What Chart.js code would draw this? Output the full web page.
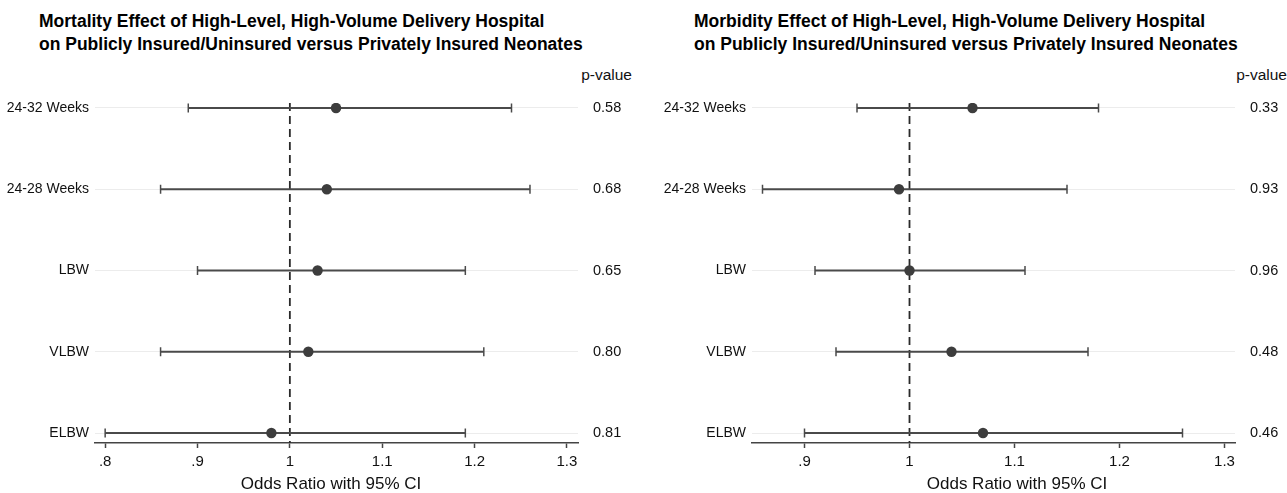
<!DOCTYPE html>
<html>
<head>
<meta charset="utf-8">
<script src="https://cdn.jsdelivr.net/npm/chart.js@4.4.1/dist/chart.umd.min.js"></script>
<style>
html,body{margin:0;padding:0;background:#fff;width:1287px;height:493px;overflow:hidden;}
canvas{position:absolute;top:0;}
#c1{left:0;}
#c2{left:645px;}
.title{position:absolute;font:bold 17.5px "Liberation Sans",Arial,sans-serif;line-height:23px;color:#000;white-space:nowrap;}
.ph{position:absolute;font:15.5px "Liberation Sans",Arial,sans-serif;line-height:18px;color:#111;white-space:nowrap;text-align:right;}
.xt{position:absolute;font:17px "Liberation Sans",Arial,sans-serif;line-height:20px;color:#111;white-space:nowrap;transform:translateX(-50%);}
</style>
</head>
<body>
<div class="title" style="left:39px;top:10px;">Mortality Effect of High-Level, High-Volume Delivery Hospital<br>on Publicly Insured/Uninsured versus Privately Insured Neonates</div>
<div class="title" style="left:694px;top:10px;">Morbidity Effect of High-Level, High-Volume Delivery Hospital<br>on Publicly Insured/Uninsured versus Privately Insured Neonates</div>
<div class="ph" style="right:655px;top:66px;">p-value</div>
<div class="ph" style="right:0px;top:66px;">p-value</div>
<canvas id="c1" width="645" height="493"></canvas>
<canvas id="c2" width="642" height="493"></canvas>
<div class="xt" style="left:331px;top:474px;">Odds Ratio with 95% CI</div>
<div class="xt" style="left:1017px;top:474px;">Odds Ratio with 95% CI</div>
<script>
// ---- data ----
const categories = ["24-32 Weeks", "24-28 Weeks", "LBW", "VLBW", "ELBW"];

const mortOR = [1.05, 1.04, 1.03, 1.02, 0.98];
const mortLo = [0.89, 0.86, 0.90, 0.86, 0.80];
const mortHi = [1.24, 1.26, 1.19, 1.21, 1.19];
const mortP  = ["0.58", "0.68", "0.65", "0.80", "0.81"];
const mortTicks = [0.8, 0.9, 1.0, 1.1, 1.2, 1.3];

const morbOR = [1.06, 0.99, 1.00, 1.04, 1.07];
const morbLo = [0.95, 0.86, 0.91, 0.93, 0.90];
const morbHi = [1.18, 1.15, 1.11, 1.17, 1.26];
const morbP  = ["0.33", "0.93", "0.96", "0.48", "0.46"];
const morbTicks = [0.9, 1.0, 1.1, 1.2, 1.3];

const refValue = 1;

// ---- helpers ----
const FONT = '"Liberation Sans", Arial, sans-serif';
const LINE = '#4a4a4a';
const DOT = '#3d3d3d';
const rowIdx = categories.map((c, i) => i);
const Y_MIN = -0.0615, Y_MAX = 4.123;

function fmtTick(v) {
  const s = Number(v.toFixed(1)).toString();
  return s.startsWith('0.') ? s.slice(1) : s;
}

function makeChart(id, or, lo, hi, pv, ticks, xmin, xmax, leftW, rightW, padRight) {
  const datasets = [];
  datasets.push({
    label: 'points',
    data: rowIdx.map(i => ({x: or[i], y: i})),
    pointRadius: 5.2, pointHoverRadius: 5.2,
    pointBackgroundColor: DOT, pointBorderColor: DOT, pointBorderWidth: 0,
    showLine: false, order: 0
  });
  rowIdx.forEach(i => {
    datasets.push({
      label: 'ci' + i,
      data: [{x: lo[i], y: i}, {x: hi[i], y: i}],
      showLine: true, borderColor: LINE, borderWidth: 2,
      pointStyle: 'line', pointRotation: 90, pointRadius: 4.5, pointHoverRadius: 4.5,
      pointBorderColor: LINE, pointBorderWidth: 1.5, order: 1
    });
  });
  datasets.push({
    label: 'ref',
    data: [{x: refValue, y: Y_MIN}, {x: refValue, y: Y_MAX}],
    showLine: true, borderColor: '#2a2a2a', borderWidth: 1.8, borderDash: [8, 5],
    pointRadius: 0, order: 2
  });

  return new Chart(document.getElementById(id), {
    type: 'scatter',
    data: {datasets},
    options: {
      responsive: false, animation: false,
      layout: {padding: {left: 0, right: padRight, top: 103, bottom: 0}},
      plugins: {legend: {display: false}, tooltip: {enabled: false}},
      scales: {
        x: {
          type: 'linear', min: xmin, max: xmax,
          afterBuildTicks: s => { s.ticks = ticks.map(v => ({value: v})); },
          afterFit: s => { s.height = 50; },
          grid: {display: true, drawOnChartArea: false, drawTicks: true, tickLength: 5, tickColor: '#444', tickWidth: 1.5},
          border: {display: true, color: '#444', width: 1.5},
          ticks: {callback: v => fmtTick(v), font: {family: FONT, size: 15}, color: '#111', padding: 5, maxRotation: 0, autoSkip: false}
        },
        y: {
          type: 'linear', reverse: true, min: Y_MIN, max: Y_MAX, position: 'left',
          afterBuildTicks: s => { s.ticks = rowIdx.map(v => ({value: v})); },
          afterFit: s => { s.width = leftW; },
          grid: {display: true, color: '#ececec', lineWidth: 1, drawTicks: false},
          border: {display: false},
          ticks: {callback: v => categories[v], font: {family: FONT, size: 14}, color: '#111', padding: 6, autoSkip: false}
        },
        y2: {
          type: 'linear', reverse: true, min: Y_MIN, max: Y_MAX, position: 'right',
          afterBuildTicks: s => { s.ticks = rowIdx.map(v => ({value: v})); },
          afterFit: s => { s.width = rightW; },
          grid: {display: false, drawTicks: false},
          border: {display: false},
          ticks: {callback: v => pv[v], font: {family: FONT, size: 14.5}, color: '#111', padding: 15, autoSkip: false}
        }
      }
    }
  });
}

makeChart('c1', mortOR, mortLo, mortHi, mortP, mortTicks, 0.789, 1.312, 95, 45, 22);
makeChart('c2', morbOR, morbLo, morbHi, morbP, morbTicks, 0.85, 1.31, 107, 52, 0);
</script>
</body>
</html>
